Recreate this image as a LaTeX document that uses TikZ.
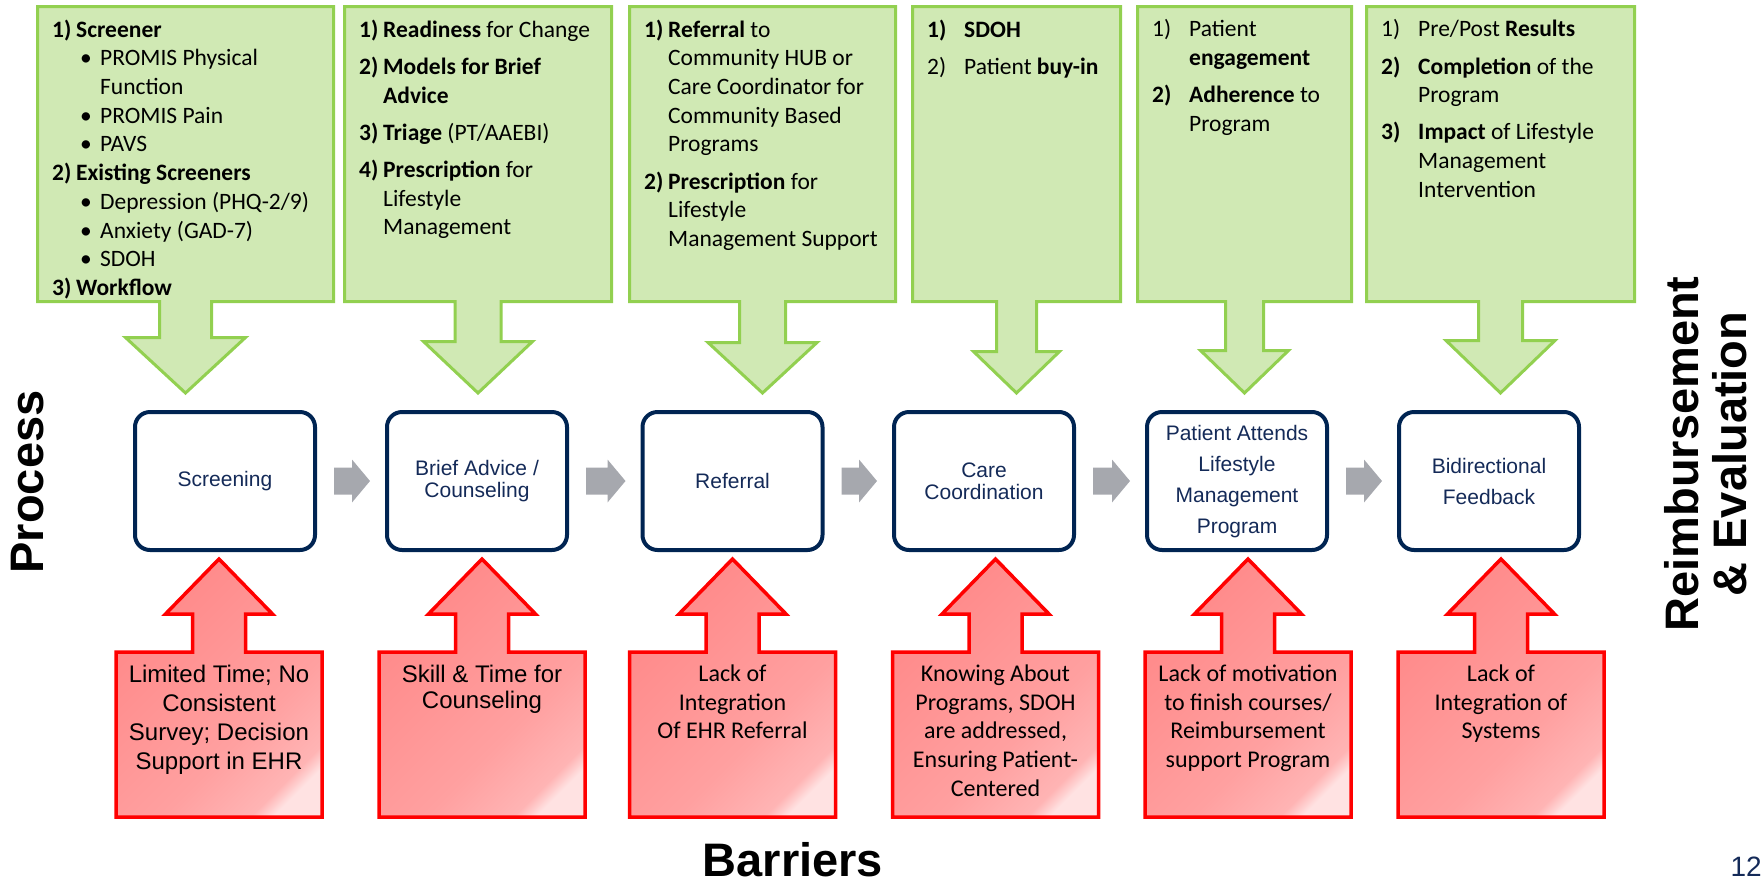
\documentclass[tikz,border=0pt]{standalone}
\usepackage{fontspec}
\setmainfont{Carlito}
\newfontfamily\arialfont{Liberation Sans}
\usetikzlibrary{calc}

\definecolor{gfill}{RGB}{208,233,180}
\definecolor{gline}{RGB}{146,208,80}
\definecolor{navy}{RGB}{0,36,82}
\definecolor{navytext}{RGB}{20,42,88}
\definecolor{flowgray}{RGB}{166,168,174}
\definecolor{bline}{RGB}{255,0,0}
\definecolor{barA}{RGB}{255,136,136}
\definecolor{barB}{RGB}{255,160,160}
\definecolor{barC}{RGB}{255,180,180}
\definecolor{barD}{RGB}{255,226,226}

\pgfdeclarehorizontalshading{barriershade}{100bp}{color(0bp)=(barA); color(25bp)=(barA); color(61bp)=(barB); color(74.5bp)=(barC); color(78bp)=(barD); color(100bp)=(barD)}

% labels in the green boxes
\newcommand{\numlbl}[1]{\makebox[24pt][l]{#1}}
\newcommand{\widelbl}[1]{\makebox[37pt][l]{#1}}
\newcommand{\bulitem}{\hspace*{28pt}\makebox[20pt][l]{\textbullet}}

% green box + down arrow: #1 box, #2 process step, #3 stem half, #4 head half, #5 head start
\newcommand{\downcallout}[5]{%
  \filldraw[callgreen] (#1.north west) -- (#1.north east) -- (#1.south east)
    -- ($(#1.south)+(#3,0)$) -- ($(#1.south)+(#3,#5)$) -- ($(#1.south)+(#4,#5)$)
    -- ($(#1.south |- #2.north)+(0,-17)$)
    -- ($(#1.south)+(-#4,#5)$) -- ($(#1.south)+(-#3,#5)$) -- ($(#1.south)+(-#3,0)$)
    -- (#1.south west) -- cycle;}

% red box + up arrow: #1 box, #2 process step
\newcommand{\upcallout}[2]{%
  \shadedraw[callred] (#1.south west) -- (#1.north west)
    -- ($(#1.north)+(-26.5,0)$) -- ($(#1.north)+(-26.5,-38)$) -- ($(#1.north)+(-53.5,-38)$)
    -- ($(#1.north |- #2.south)+(0,7)$)
    -- ($(#1.north)+(53.5,-38)$) -- ($(#1.north)+(26.5,-38)$) -- ($(#1.north)+(26.5,0)$)
    -- (#1.north east) -- (#1.south east) -- cycle;}

% gray block arrow between two steps
\newcommand{\flowarrow}[2]{%
  \fill[flowgray] ($(#1.east)+(17,-13.5)$) -- ($(#2.west)+(-33,-13.5)$) -- ($(#2.west)+(-33,-21.5)$)
    -- ($(#2.west)+(-15,0)$)
    -- ($(#2.west)+(-33,21.5)$) -- ($(#2.west)+(-33,13.5)$) -- ($(#1.east)+(17,13.5)$) -- cycle;}

\begin{document}
\begin{tikzpicture}[
    x=1pt, y=-1pt,
    % pasos del proceso
    proc/.style={draw=navy, line width=4pt, rounded corners=15pt, fill=white, minimum width=180pt, minimum height=138pt, align=center, text=navytext, font=\arialfont\fontsize{21}{22}\selectfont},
    procwide/.style={proc, font=\arialfont\fontsize{21}{31}\selectfont},
    % marcos de las cajas verdes y rojas
    gpanel/.style={inner sep=0pt, outer sep=0pt, minimum height=295pt},
    bpanel/.style={inner sep=0pt, outer sep=0pt, minimum width=206pt, minimum height=165pt},
    callgreen/.style={fill=gfill, draw=gline, line width=3pt},
    callred/.style={shading=barriershade, shading angle=-45, draw=bline, line width=3.5pt},
    % textos
    gtext/.style={anchor=north west, inner sep=0pt, align=left, xshift=14.5pt, yshift=-13pt, font=\fontsize{23.5}{28.7}\selectfont},
    btext/.style={anchor=north, inner sep=0pt, align=center, yshift=-12.5pt, font=\fontsize{24}{28.7}\selectfont},
    btextarial/.style={btext, font=\arialfont\fontsize{24}{29}\selectfont},
    biglabel/.style={inner sep=0pt, font=\arialfont\bfseries\fontsize{47}{48}\selectfont},
    pagenum/.style={inner sep=0pt, text=navytext, font=\arialfont\fontsize{28}{30}\selectfont}
]
\useasboundingbox (0,0) rectangle (1764,887);

% --- Process steps ---
\node[proc] (p1) at (225,481) {Screening};
\node[proc] (p2) at (477,481) {Brief Advice /\\Counseling};
\node[proc] (p3) at (732.5,481) {Referral};
\node[proc] (p4) at (984,481) {Care\\Coordination};
\node[procwide] (p5) at (1237,481) {\rule{0pt}{17pt}Patient Attends\\Lifestyle\\Management\\Program};
\node[procwide] (p6) at (1489,481) {Bidirectional\\Feedback};

\flowarrow{p1}{p2}
\flowarrow{p2}{p3}
\flowarrow{p3}{p4}
\flowarrow{p4}{p5}
\flowarrow{p5}{p6}

% --- Green boxes (what each step needs) ---
\node[gpanel, minimum width=296pt] (g1) at (185.5,154) {};
\node[gpanel, minimum width=267pt] (g2) at (478,154) {};
\node[gpanel, minimum width=266pt] (g3) at (762.5,154) {};
\node[gpanel, minimum width=208pt] (g4) at (1016.5,154) {};
\node[gpanel, minimum width=214pt] (g5) at (1244.5,154) {};
\node[gpanel, minimum width=268pt] (g6) at (1500.5,154) {};

\downcallout{g1}{p1}{26}{60}{36}
\downcallout{g2}{p2}{23}{54.5}{40}
\downcallout{g3}{p3}{23}{54.5}{41}
\downcallout{g4}{p4}{20}{43}{50}
\downcallout{g5}{p5}{19}{44}{49}
\downcallout{g6}{p6}{22}{54.5}{39}

\node[gtext] (g1t) at (g1.north west) {\numlbl{\textbf{1)}}\textbf{Screener}\\
  \bulitem PROMIS Physical\\
  \hspace*{48pt}Function\\
  \bulitem PROMIS Pain\\
  \bulitem PAVS\\
  \numlbl{\textbf{2)}}\textbf{Existing Screeners}\\
  \bulitem Depression (PHQ-2/9)\\
  \bulitem Anxiety (GAD-7)\\
  \bulitem SDOH\\
  \numlbl{\textbf{3)}}\textbf{Workflow}};
\node[gtext] (g2t) at (g2.north west) {\numlbl{\textbf{1)}}\textbf{Readiness} for Change\\[8.5pt]
  \numlbl{\textbf{2)}}\textbf{Models for Brief}\\
  \numlbl{}\textbf{Advice}\\[8.5pt]
  \numlbl{\textbf{3)}}\textbf{Triage} (PT/AAEBI)\\[8.5pt]
  \numlbl{\textbf{4)}}\textbf{Prescription} for\\
  \numlbl{}Lifestyle\\
  \numlbl{}Management};
\node[gtext] (g3t) at (g3.north west) {\numlbl{\textbf{1)}}\textbf{Referral} to\\
  \numlbl{}Community HUB or\\
  \numlbl{}Care Coordinator for\\
  \numlbl{}Community Based\\
  \numlbl{}Programs\\[8.5pt]
  \numlbl{\textbf{2)}}\textbf{Prescription} for\\
  \numlbl{}Lifestyle\\
  \numlbl{}Management Support};
\node[gtext] (g4t) at (g4.north west) {\widelbl{\textbf{1)}}\textbf{SDOH}\\[8.5pt]
  \widelbl{2)}Patient \textbf{buy-in}};
\node[gtext] (g5t) at (g5.north west) {\widelbl{1)}Patient\\
  \widelbl{}\textbf{engagement}\\[8.5pt]
  \widelbl{\textbf{2)}}\textbf{Adherence} to\\
  \widelbl{}Program};
\node[gtext] (g6t) at (g6.north west) {\widelbl{1)}Pre/Post \textbf{Results}\\[8.5pt]
  \widelbl{\textbf{2)}}\textbf{Completion} of the\\
  \widelbl{}Program\\[8.5pt]
  \widelbl{\textbf{3)}}\textbf{Impact} of Lifestyle\\
  \widelbl{}Management\\
  \widelbl{}Intervention};

% --- Red boxes (barriers) ---
\node[bpanel] (b1) at (219,734.5) {};
\node[bpanel] (b2) at (482,734.5) {};
\node[bpanel] (b3) at (732.5,734.5) {};
\node[bpanel] (b4) at (995.5,734.5) {};
\node[bpanel] (b5) at (1248,734.5) {};
\node[bpanel] (b6) at (1501,734.5) {};

\upcallout{b1}{p1}
\upcallout{b2}{p2}
\upcallout{b3}{p3}
\upcallout{b4}{p4}
\upcallout{b5}{p5}
\upcallout{b6}{p6}

\node[btextarial] (b1t) at (b1.north) {Limited Time; No\\Consistent\\Survey; Decision\\Support in EHR};
\node[btextarial, font=\arialfont\fontsize{24}{26}\selectfont] (b2t) at (b2.north) {Skill \& Time for\\Counseling};
\node[btext] (b3t) at (b3.north) {Lack of\\Integration\\Of EHR Referral};
\node[btext] (b4t) at (b4.north) {Knowing About\\Programs, SDOH\\are addressed,\\Ensuring Patient-\\Centered};
\node[btext] (b5t) at (b5.north) {Lack of motivation\\to finish courses/\\Reimbursement\\support Program};
\node[btext] (b6t) at (b6.north) {Lack of\\Integration of\\Systems};

% --- Axis labels ---
\node[biglabel, rotate=90] (process) at (28,482) {Process};
\node[biglabel] (barriers) at (793,860) {Barriers};
\node[biglabel, rotate=90, align=center] (reimb) at (1706,454) {Reimbursement\\\& Evaluation};
\node[pagenum, anchor=east] (pnum) at (1762,867) {12};

\end{tikzpicture}
\end{document}
